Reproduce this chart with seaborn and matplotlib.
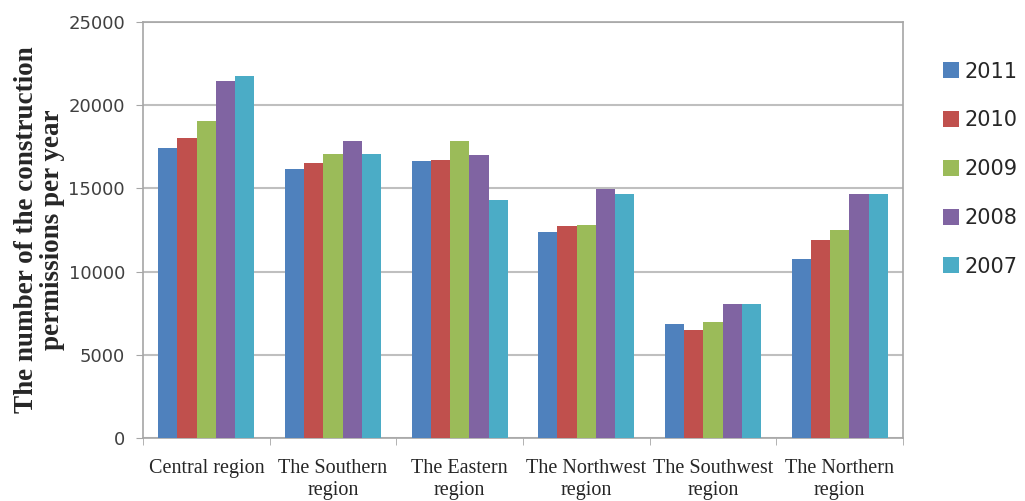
import matplotlib.pyplot as plt
import seaborn as sns
import pandas as pd

# data
regions = ["Central region", "The Southern\nregion", "The Eastern\nregion",
           "The Northwest\nregion", "The Southwest\nregion", "The Northern\nregion"]
years = ["2011", "2010", "2009", "2008", "2007"]
v2011 = [17430, 16170, 16630, 12380, 6830, 10760]
v2010 = [18010, 16550, 16690, 12720, 6510, 11900]
v2009 = [19070, 17080, 17830, 12820, 6950, 12500]
v2008 = [21470, 17830, 17010, 14960, 8070, 14680]
v2007 = [21750, 17080, 14320, 14680, 8070, 14680]
colors = ["#4F81BD", "#C0504D", "#9BBB59", "#8064A2", "#4BACC6"]

rows = []
for yr, vals in zip(years, [v2011, v2010, v2009, v2008, v2007]):
    for reg, v in zip(regions, vals):
        rows.append({"region": reg, "year": yr, "value": v})
df = pd.DataFrame(rows)

sns.set_style("white")
fig = plt.figure(figsize=(10.25, 5.01), dpi=100)
ax = fig.add_axes([0.1395, 0.1257, 0.7415, 0.8303])

sns.barplot(data=df, x="region", y="value", hue="year", order=regions,
            hue_order=years, palette=colors, width=0.76, gap=0,
            saturation=1, linewidth=0, ax=ax, zorder=3)

ax.set_ylim(0, 25000)
ax.set_xlim(-0.5, 5.5)
ax.set_yticks(range(0, 25001, 5000))
ax.grid(axis="y", color="#BFBFBF", linewidth=1.5, zorder=0)
ax.set_axisbelow(True)
for s in ax.spines.values():
    s.set_color("#A6A6A6")
    s.set_linewidth(1.2)

ax.tick_params(axis="y", labelsize=13, labelcolor="#404040", length=5,
               color="#A6A6A6", left=True, direction="out", pad=8)
ax.set_yticklabels([str(t) for t in range(0, 25001, 5000)], family="DejaVu Sans")
ax.tick_params(axis="x", length=0, pad=15, labelcolor="#262626")
for lab in ax.get_xticklabels():
    lab.set_family("Liberation Serif")
    lab.set_fontsize(14.5)
    lab.set_linespacing(1.2)
ax.set_xticks([i - 0.5 for i in range(7)], minor=True)
ax.tick_params(axis="x", which="minor", length=5, color="#A6A6A6", bottom=True)

ax.set_xlabel("")
ax.set_ylabel("The number of the construction\npermissions per year",
              family="Liberation Serif", fontweight="bold", fontsize=19.5,
              labelpad=2, linespacing=1.1)

ax.legend(loc="upper left", bbox_to_anchor=(1.052, 0.905), frameon=False,
          fontsize=15, labelspacing=1.38, handlelength=0.8, handleheight=0.8,
          handletextpad=0.25, borderpad=0, borderaxespad=0, labelcolor="#262626")

fig.savefig("out.png", dpi=100)
